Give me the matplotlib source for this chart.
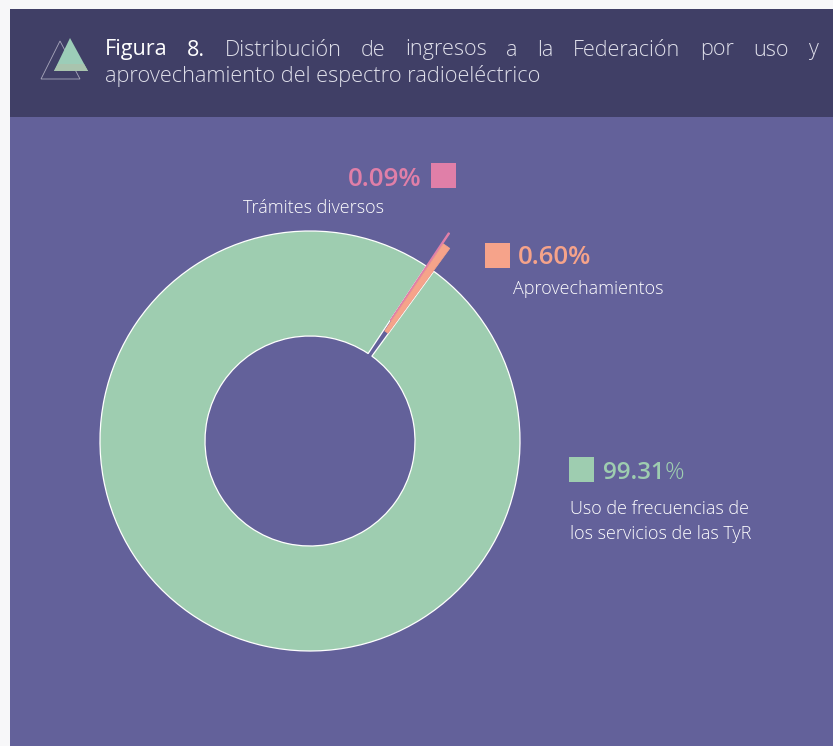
import matplotlib
matplotlib.use("Agg")
import matplotlib.pyplot as plt
from matplotlib.patches import Rectangle, Polygon

labels = ["Uso de frecuencias de\nlos servicios de las TyR", "Trámites diversos", "Aprovechamientos"]
values = [99.31, 0.09, 0.60]
value_labels = ["99.31", "0.09%", "0.60%"]
colors = ["#9ecdb0", "#e07fa8", "#f6a38a"]
title_bold = ["Figura", "8."]
title_line1 = ["Distribución", "de", "ingresos", "a", "la", "Federación", "por", "uso", "y"]
title_line2 = "aprovechamiento del espectro radioeléctrico"

W, H = 833, 746
BG, HEADER, PANEL = "#f7f7f9", "#403f66", "#63619a"
plt.rcParams["font.family"] = ["Open Sans", "DejaVu Sans"]

fig = plt.figure(figsize=(W / 100, H / 100), dpi=100, facecolor=BG)
ax = fig.add_axes([0, 0, 1, 1])
ax.set_xlim(0, W)
ax.set_ylim(H, 0)
ax.axis("off")
ax.add_patch(Rectangle((10, 9), W - 10, 108, fc=HEADER, ec="none", zorder=0))
ax.add_patch(Rectangle((10, 117), W - 10, H - 117, fc=PANEL, ec="none", zorder=0))

# Icon
ax.add_patch(Polygon([(41, 79), (80, 79), (60, 41)], closed=True, fc="none", ec="#a9a9bd", lw=0.6, zorder=2))
ax.add_patch(Polygon([(54, 71), (88, 71), (70, 38)], closed=True, fc="#9ccdb8", ec="none", zorder=3))
ax.add_patch(Polygon([(54, 71), (88, 71), (84, 64), (58, 64)], closed=True, fc="#a9c4ae", ec="none", zorder=3))

# Title, justified like the reference
fig.canvas.draw()
rend = fig.canvas.get_renderer()
fs = 15.6
WHITE = "#ffffff"
LIGHT = "#dfdfea"
words = [(w, "medium", WHITE) for w in title_bold] + [(w, "light", LIGHT) for w in title_line1]
artists = [ax.text(105, 50, w, fontsize=fs, fontweight=wt, color=c, va="center", ha="left", zorder=5)
           for w, wt, c in words]
widths = [a.get_window_extent(rend).width for a in artists]
gap = (818 - 105 - sum(widths)) / (len(words) - 1)
x = 105
for a, wd in zip(artists, widths):
    a.set_x(x)
    x += wd + gap
ax.text(105, 76, title_line2, fontsize=15.7, fontweight="light", color=LIGHT, va="center", ha="left", zorder=5)

# Donut: second axes in pixel units, y upward, so that pie is not mirrored
ax2 = fig.add_axes([0, 0, 1, 1])
ax2.set_xlim(0, W)
ax2.set_ylim(0, H)
ax2.axis("off")
ax2.patch.set_alpha(0)
wedges, _ = ax2.pie(values, colors=colors, startangle=53.9, counterclock=False,
                    radius=210, center=(310, H - 441), explode=[0, 40, 28], frame=True,
                    wedgeprops=dict(width=105, linewidth=0))
ax2.set_xlim(0, W)
ax2.set_ylim(0, H)
ax2.set_aspect("auto")
ax2.axis("off")
wedges[0].set_edgecolor("white")
wedges[0].set_linewidth(0.9)
wedges[0].set_zorder(2)
wedges[1].set_edgecolor(colors[1])
wedges[1].set_linewidth(0.9)
wedges[1].set_zorder(3)
wedges[2].set_edgecolor(colors[2])
wedges[2].set_linewidth(0.5)
wedges[2].set_zorder(4)

# Legend marks and labels
ax.set_zorder(ax2.get_zorder() - 1)
ax.add_patch(Rectangle((569, 457), 25, 25, fc=colors[0], ec="none", zorder=3))
ax.add_patch(Rectangle((431, 163), 25, 25, fc=colors[1], ec="none", zorder=3))
ax.add_patch(Rectangle((485, 243), 25, 25, fc=colors[2], ec="none", zorder=3))
t0 = ax.text(603, 473, value_labels[0], fontsize=17.4, color=colors[0], fontweight="semibold", va="center", ha="left", zorder=5)
w0 = t0.get_window_extent(rend).width
ax.text(603 + w0, 473, "%", fontsize=17.4, color=colors[0], fontweight="light", va="center", ha="left", zorder=5)
vfs = 18.6
ax.text(348, 179, value_labels[1], fontsize=vfs, color=colors[1], fontweight="semibold", va="center", ha="left", zorder=5)
ax.text(518, 257, value_labels[2], fontsize=vfs, color=colors[2], fontweight="semibold", va="center", ha="left", zorder=5)
lfs = 13.0
l0a, l0b = labels[0].split("\n")
ax.text(570, 509, l0a, fontsize=lfs, fontweight="light", color=WHITE, va="center", ha="left", zorder=5)
ax.text(570, 534, l0b, fontsize=lfs, fontweight="light", color=WHITE, va="center", ha="left", zorder=5)
ax.text(243, 208, labels[1], fontsize=lfs, fontweight="light", color=WHITE, va="center", ha="left", zorder=5)
ax.text(513, 289, labels[2], fontsize=lfs, fontweight="light", color=WHITE, va="center", ha="left", zorder=5)

fig.savefig("out.png", dpi=100, facecolor=BG)
